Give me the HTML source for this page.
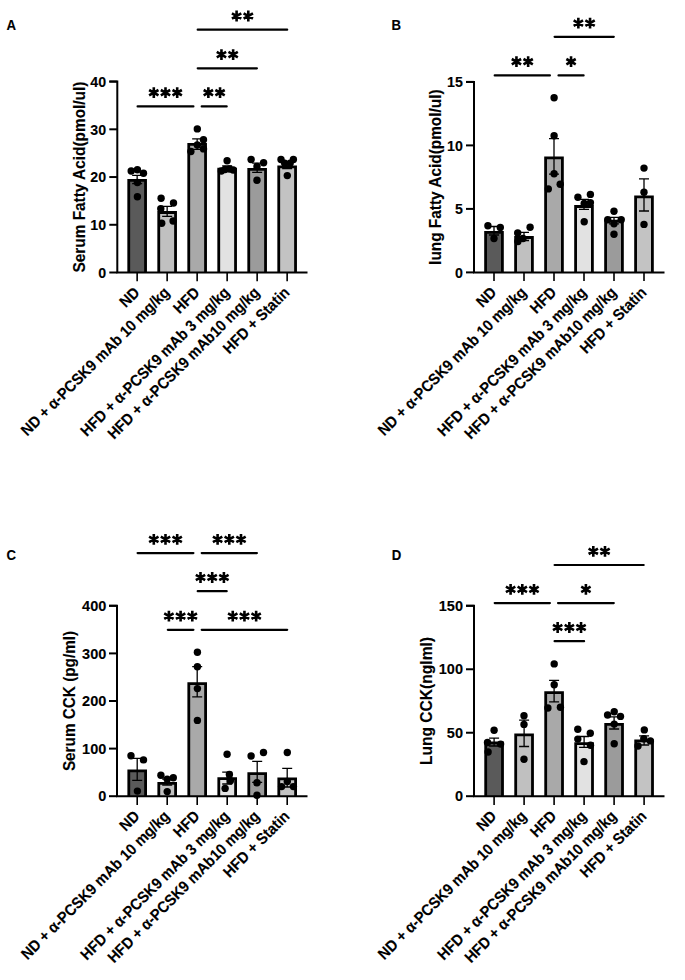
<!DOCTYPE html>
<html><head><meta charset="utf-8"><style>
html,body{margin:0;padding:0;background:#fff;overflow:hidden;width:685px;height:980px;}
svg{display:block;}
text{font-family:"Liberation Sans", sans-serif;font-weight:bold;fill:#000;stroke:#000;stroke-width:0.12px;}
.tl{font-size:14.0px;}
.xl{font-size:14.5px;}
.tt{font-size:15.3px;}
.pl{font-size:13.2px;}
</style></head><body>
<svg width="685" height="980" viewBox="0 0 685 980">
<rect width="685" height="980" fill="#fff"/>
<path d="M128.75 272.5V180.3H145.55V272.5" fill="#5a5a5a" stroke="#000" stroke-width="2.8" stroke-linejoin="miter"/>
<path d="M158.75 272.5V212.5H175.55V272.5" fill="#c0c0c0" stroke="#000" stroke-width="2.8" stroke-linejoin="miter"/>
<path d="M188.75 272.5V144.3H205.55V272.5" fill="#a9a9a9" stroke="#000" stroke-width="2.8" stroke-linejoin="miter"/>
<path d="M218.75 272.5V169.1H235.55V272.5" fill="#e2e2e2" stroke="#000" stroke-width="2.8" stroke-linejoin="miter"/>
<path d="M248.75 272.5V169.4H265.55V272.5" fill="#9b9b9b" stroke="#000" stroke-width="2.8" stroke-linejoin="miter"/>
<path d="M278.75 272.5V166.9H295.55V272.5" fill="#c3c3c3" stroke="#000" stroke-width="2.8" stroke-linejoin="miter"/>
<path d="M137.15 175.3V183.7M132.15 175.3H142.15M132.15 183.7H142.15" stroke="#000" stroke-width="1.3" fill="none"/>
<path d="M167.15 206.4V216.3M162.15 206.4H172.15M162.15 216.3H172.15" stroke="#000" stroke-width="1.3" fill="none"/>
<path d="M197.15 138.8V149.4M192.15 138.8H202.15M192.15 149.4H202.15" stroke="#000" stroke-width="1.3" fill="none"/>
<path d="M227.15 165.8V171.2M222.15 165.8H232.15M222.15 171.2H232.15" stroke="#000" stroke-width="1.3" fill="none"/>
<path d="M257.15 163.1V172.3M252.15 163.1H262.15M252.15 172.3H262.15" stroke="#000" stroke-width="1.3" fill="none"/>
<path d="M287.15 162.5V168.5M282.15 162.5H292.15M282.15 168.5H292.15" stroke="#000" stroke-width="1.3" fill="none"/>
<circle cx="131.2" cy="171" r="3.7"/>
<circle cx="137.4" cy="169.7" r="3.7"/>
<circle cx="143.5" cy="173.3" r="3.7"/>
<circle cx="137.4" cy="182.5" r="3.7"/>
<circle cx="137.4" cy="196.8" r="3.7"/>
<circle cx="161.1" cy="198.2" r="3.7"/>
<circle cx="173.5" cy="203" r="3.7"/>
<circle cx="160.8" cy="208.7" r="3.7"/>
<circle cx="161.7" cy="223.3" r="3.7"/>
<circle cx="173.1" cy="221" r="3.7"/>
<circle cx="197.3" cy="128.9" r="3.7"/>
<circle cx="203.5" cy="139.7" r="3.7"/>
<circle cx="197.3" cy="145" r="3.7"/>
<circle cx="190.9" cy="151.5" r="3.7"/>
<circle cx="203.5" cy="148.9" r="3.7"/>
<circle cx="227.1" cy="160.8" r="3.7"/>
<circle cx="221.3" cy="171" r="3.7"/>
<circle cx="225" cy="169.5" r="3.7"/>
<circle cx="229.5" cy="169" r="3.7"/>
<circle cx="233.2" cy="170" r="3.7"/>
<circle cx="251.1" cy="159.5" r="3.7"/>
<circle cx="263.6" cy="162.7" r="3.7"/>
<circle cx="257" cy="166.4" r="3.7"/>
<circle cx="257" cy="180.2" r="3.7"/>
<circle cx="281" cy="159.5" r="3.7"/>
<circle cx="293.4" cy="159.5" r="3.7"/>
<circle cx="284.6" cy="163.1" r="3.7"/>
<circle cx="290.2" cy="163.1" r="3.7"/>
<circle cx="287.3" cy="175.6" r="3.7"/>
<path d="M109.3 81.6H117.3V272.5H307.5" stroke="#000" stroke-width="2.0" fill="none" stroke-linejoin="miter"/>
<path d="M109.3 272.5H117.3" stroke="#000" stroke-width="2.0"/>
<text transform="translate(106.1 277.7) scale(1 1.0)" text-anchor="end" style="font-size:14.2px">0</text>
<path d="M109.3 224.78H117.3" stroke="#000" stroke-width="2.0"/>
<text transform="translate(106.1 229.97) scale(1 1.0)" text-anchor="end" style="font-size:14.2px">10</text>
<path d="M109.3 177.05H117.3" stroke="#000" stroke-width="2.0"/>
<text transform="translate(106.1 182.25) scale(1 1.0)" text-anchor="end" style="font-size:14.2px">20</text>
<path d="M109.3 129.32H117.3" stroke="#000" stroke-width="2.0"/>
<text transform="translate(106.1 134.52) scale(1 1.0)" text-anchor="end" style="font-size:14.2px">30</text>
<path d="M109.3 81.6H117.3" stroke="#000" stroke-width="2.0"/>
<text transform="translate(106.1 86.8) scale(1 1.0)" text-anchor="end" style="font-size:14.2px">40</text>
<path d="M137.15 272.5V281.2" stroke="#000" stroke-width="1.6"/>
<text transform="translate(140.55 293.5) rotate(-45) scale(1 1.08)" text-anchor="end" style="font-size:14.5px">ND</text>
<path d="M167.15 272.5V281.2" stroke="#000" stroke-width="1.6"/>
<text transform="translate(170.55 293.5) rotate(-45) scale(1 1.08)" text-anchor="end" style="font-size:14.5px">ND + α-PCSK9 mAb 10 mg/kg</text>
<path d="M197.15 272.5V281.2" stroke="#000" stroke-width="1.6"/>
<text transform="translate(200.55 293.5) rotate(-45) scale(1 1.08)" text-anchor="end" style="font-size:14.5px">HFD</text>
<path d="M227.15 272.5V281.2" stroke="#000" stroke-width="1.6"/>
<text transform="translate(230.55 293.5) rotate(-45) scale(1 1.08)" text-anchor="end" style="font-size:14.5px">HFD + α-PCSK9 mAb 3 mg/kg</text>
<path d="M257.15 272.5V281.2" stroke="#000" stroke-width="1.6"/>
<text transform="translate(260.55 293.5) rotate(-45) scale(1 1.08)" text-anchor="end" style="font-size:14.5px">HFD + α-PCSK9 mAb10 mg/kg</text>
<path d="M287.15 272.5V281.2" stroke="#000" stroke-width="1.6"/>
<text transform="translate(290.55 293.5) rotate(-45) scale(1 1.08)" text-anchor="end" style="font-size:14.5px">HFD + Statin</text>
<text transform="translate(85 177.05) rotate(-90) scale(1 1.09)" text-anchor="middle" style="font-size:15.4px">Serum Fatty Acid(pmol/ul)</text>
<text transform="translate(6.4 29.8) scale(1 1.14)" style="font-size:13.2px">A</text>
<path d="M197.7 29.7H287.2" stroke="#000" stroke-width="2.2" stroke-linecap="round"/>
<path d="M236.6 10.6L236.6 21.4M231.92 13.3L241.28 18.7M241.28 13.3L231.92 18.7M248.3 10.6L248.3 21.4M243.62 13.3L252.98 18.7M252.98 13.3L243.62 18.7" stroke="#000" stroke-width="2.6" fill="none"/>
<path d="M197.7 68.3H256.9" stroke="#000" stroke-width="2.2" stroke-linecap="round"/>
<path d="M221.45 49.2L221.45 60M216.77 51.9L226.13 57.3M226.13 51.9L216.77 57.3M233.15 49.2L233.15 60M228.47 51.9L237.83 57.3M237.83 51.9L228.47 57.3" stroke="#000" stroke-width="2.6" fill="none"/>
<path d="M137.6 106.4H193.4" stroke="#000" stroke-width="2.2" stroke-linecap="round"/>
<path d="M153.8 87.3L153.8 98.1M149.12 90L158.48 95.4M158.48 90L149.12 95.4M165.5 87.3L165.5 98.1M160.82 90L170.18 95.4M170.18 90L160.82 95.4M177.2 87.3L177.2 98.1M172.52 90L181.88 95.4M181.88 90L172.52 95.4" stroke="#000" stroke-width="2.6" fill="none"/>
<path d="M201.7 106.4H226.7" stroke="#000" stroke-width="2.2" stroke-linecap="round"/>
<path d="M208.35 87.3L208.35 98.1M203.67 90L213.03 95.4M213.03 90L203.67 95.4M220.05 87.3L220.05 98.1M215.37 90L224.73 95.4M224.73 90L215.37 95.4" stroke="#000" stroke-width="2.6" fill="none"/>
<path d="M485.6 272.4V232.4H502.4V272.4" fill="#5a5a5a" stroke="#000" stroke-width="2.8" stroke-linejoin="miter"/>
<path d="M515.6 272.4V237.5H532.4V272.4" fill="#c0c0c0" stroke="#000" stroke-width="2.8" stroke-linejoin="miter"/>
<path d="M545.6 272.4V157.8H562.4V272.4" fill="#a9a9a9" stroke="#000" stroke-width="2.8" stroke-linejoin="miter"/>
<path d="M575.6 272.4V206.5H592.4V272.4" fill="#e2e2e2" stroke="#000" stroke-width="2.8" stroke-linejoin="miter"/>
<path d="M605.6 272.4V221.2H622.4V272.4" fill="#9b9b9b" stroke="#000" stroke-width="2.8" stroke-linejoin="miter"/>
<path d="M635.6 272.4V196.9H652.4V272.4" fill="#c3c3c3" stroke="#000" stroke-width="2.8" stroke-linejoin="miter"/>
<path d="M494 226.5V235M489 226.5H499M489 235H499" stroke="#000" stroke-width="1.3" fill="none"/>
<path d="M524 232.3V240.5M519 232.3H529M519 240.5H529" stroke="#000" stroke-width="1.3" fill="none"/>
<path d="M554 138.7V174.1M549 138.7H559M549 174.1H559" stroke="#000" stroke-width="1.3" fill="none"/>
<path d="M584 199.4V209.3M579 199.4H589M579 209.3H589" stroke="#000" stroke-width="1.3" fill="none"/>
<path d="M614 217.3V223.8M609 217.3H619M609 223.8H619" stroke="#000" stroke-width="1.3" fill="none"/>
<path d="M644 178.8V211M639 178.8H649M639 211H649" stroke="#000" stroke-width="1.3" fill="none"/>
<circle cx="487.9" cy="225.8" r="3.7"/>
<circle cx="500.3" cy="227.5" r="3.7"/>
<circle cx="494" cy="238.5" r="3.7"/>
<circle cx="530.1" cy="227.3" r="3.7"/>
<circle cx="517.7" cy="232.9" r="3.7"/>
<circle cx="517.9" cy="241.5" r="3.7"/>
<circle cx="523" cy="238.5" r="3.7"/>
<circle cx="554.1" cy="97.7" r="3.7"/>
<circle cx="554.1" cy="135.7" r="3.7"/>
<circle cx="554.1" cy="173.7" r="3.7"/>
<circle cx="548.3" cy="188.9" r="3.7"/>
<circle cx="560.2" cy="184.2" r="3.7"/>
<circle cx="577.9" cy="197.2" r="3.7"/>
<circle cx="590.4" cy="194.4" r="3.7"/>
<circle cx="584.2" cy="203.4" r="3.7"/>
<circle cx="590.4" cy="202.7" r="3.7"/>
<circle cx="584.2" cy="221.8" r="3.7"/>
<circle cx="614" cy="211.2" r="3.7"/>
<circle cx="607.7" cy="219.8" r="3.7"/>
<circle cx="621.2" cy="219.8" r="3.7"/>
<circle cx="614" cy="223.7" r="3.7"/>
<circle cx="614" cy="234.2" r="3.7"/>
<circle cx="644" cy="168.1" r="3.7"/>
<circle cx="644" cy="192.2" r="3.7"/>
<circle cx="644" cy="224.4" r="3.7"/>
<path d="M466 81.9H474V272.4H664.5" stroke="#000" stroke-width="2.0" fill="none" stroke-linejoin="miter"/>
<path d="M466 272.4H474" stroke="#000" stroke-width="2.0"/>
<text transform="translate(462.8 277.6) scale(1 1.0)" text-anchor="end" style="font-size:14.2px">0</text>
<path d="M466 208.9H474" stroke="#000" stroke-width="2.0"/>
<text transform="translate(462.8 214.1) scale(1 1.0)" text-anchor="end" style="font-size:14.2px">5</text>
<path d="M466 145.4H474" stroke="#000" stroke-width="2.0"/>
<text transform="translate(462.8 150.6) scale(1 1.0)" text-anchor="end" style="font-size:14.2px">10</text>
<path d="M466 81.9H474" stroke="#000" stroke-width="2.0"/>
<text transform="translate(462.8 87.1) scale(1 1.0)" text-anchor="end" style="font-size:14.2px">15</text>
<path d="M494 272.4V281.1" stroke="#000" stroke-width="1.6"/>
<text transform="translate(497.4 293.4) rotate(-45) scale(1 1.08)" text-anchor="end" style="font-size:14.5px">ND</text>
<path d="M524 272.4V281.1" stroke="#000" stroke-width="1.6"/>
<text transform="translate(527.4 293.4) rotate(-45) scale(1 1.08)" text-anchor="end" style="font-size:14.5px">ND + α-PCSK9 mAb 10 mg/kg</text>
<path d="M554 272.4V281.1" stroke="#000" stroke-width="1.6"/>
<text transform="translate(557.4 293.4) rotate(-45) scale(1 1.08)" text-anchor="end" style="font-size:14.5px">HFD</text>
<path d="M584 272.4V281.1" stroke="#000" stroke-width="1.6"/>
<text transform="translate(587.4 293.4) rotate(-45) scale(1 1.08)" text-anchor="end" style="font-size:14.5px">HFD + α-PCSK9 mAb 3 mg/kg</text>
<path d="M614 272.4V281.1" stroke="#000" stroke-width="1.6"/>
<text transform="translate(617.4 293.4) rotate(-45) scale(1 1.08)" text-anchor="end" style="font-size:14.5px">HFD + α-PCSK9 mAb10 mg/kg</text>
<path d="M644 272.4V281.1" stroke="#000" stroke-width="1.6"/>
<text transform="translate(647.4 293.4) rotate(-45) scale(1 1.08)" text-anchor="end" style="font-size:14.5px">HFD + Statin</text>
<text transform="translate(441 177.15) rotate(-90) scale(1 1.09)" text-anchor="middle" style="font-size:15.4px">lung Fatty Acid(pmol/ul)</text>
<text transform="translate(391.6 29.8) scale(1 1.14)" style="font-size:13.2px">B</text>
<path d="M554.6 36.8H613.8" stroke="#000" stroke-width="2.2" stroke-linecap="round"/>
<path d="M578.35 17.7L578.35 28.5M573.67 20.4L583.03 25.8M583.03 20.4L573.67 25.8M590.05 17.7L590.05 28.5M585.37 20.4L594.73 25.8M594.73 20.4L585.37 25.8" stroke="#000" stroke-width="2.6" fill="none"/>
<path d="M494.7 75.4H549.9" stroke="#000" stroke-width="2.2" stroke-linecap="round"/>
<path d="M516.45 56.3L516.45 67.1M511.77 59L521.13 64.4M521.13 59L511.77 64.4M528.15 56.3L528.15 67.1M523.47 59L532.83 64.4M532.83 59L523.47 64.4" stroke="#000" stroke-width="2.6" fill="none"/>
<path d="M558.5 75.4H583.6" stroke="#000" stroke-width="2.2" stroke-linecap="round"/>
<path d="M571.05 56.3L571.05 67.1M566.37 59L575.73 64.4M575.73 59L566.37 64.4" stroke="#000" stroke-width="2.6" fill="none"/>
<path d="M128.8 796.2V770.8H145.6V796.2" fill="#5a5a5a" stroke="#000" stroke-width="2.8" stroke-linejoin="miter"/>
<path d="M158.8 796.2V783.3H175.6V796.2" fill="#c0c0c0" stroke="#000" stroke-width="2.8" stroke-linejoin="miter"/>
<path d="M188.8 796.2V683.7H205.6V796.2" fill="#a9a9a9" stroke="#000" stroke-width="2.8" stroke-linejoin="miter"/>
<path d="M218.8 796.2V778.6H235.6V796.2" fill="#e2e2e2" stroke="#000" stroke-width="2.8" stroke-linejoin="miter"/>
<path d="M248.8 796.2V773.6H265.6V796.2" fill="#9b9b9b" stroke="#000" stroke-width="2.8" stroke-linejoin="miter"/>
<path d="M278.8 796.2V778.9H295.6V796.2" fill="#c3c3c3" stroke="#000" stroke-width="2.8" stroke-linejoin="miter"/>
<path d="M137.2 758.4V780.4M132.2 758.4H142.2M132.2 780.4H142.2" stroke="#000" stroke-width="1.3" fill="none"/>
<path d="M167.2 779V785M162.2 779H172.2M162.2 785H172.2" stroke="#000" stroke-width="1.3" fill="none"/>
<path d="M197.2 666.7V696.9M192.2 666.7H202.2M192.2 696.9H202.2" stroke="#000" stroke-width="1.3" fill="none"/>
<path d="M227.2 772.2V784M222.2 772.2H232.2M222.2 784H232.2" stroke="#000" stroke-width="1.3" fill="none"/>
<path d="M257.2 761.3V782.3M252.2 761.3H262.2M252.2 782.3H262.2" stroke="#000" stroke-width="1.3" fill="none"/>
<path d="M287.2 768.3V787M282.2 768.3H292.2M282.2 787H292.2" stroke="#000" stroke-width="1.3" fill="none"/>
<circle cx="131" cy="755.8" r="3.7"/>
<circle cx="143.5" cy="759.9" r="3.7"/>
<circle cx="137.4" cy="791.1" r="3.7"/>
<circle cx="160.9" cy="775.3" r="3.7"/>
<circle cx="167.2" cy="779.3" r="3.7"/>
<circle cx="173.3" cy="777.8" r="3.7"/>
<circle cx="167.2" cy="791.6" r="3.7"/>
<circle cx="197.4" cy="652.2" r="3.7"/>
<circle cx="197.4" cy="666.7" r="3.7"/>
<circle cx="197.4" cy="688.6" r="3.7"/>
<circle cx="197.4" cy="720.4" r="3.7"/>
<circle cx="227.1" cy="754.2" r="3.7"/>
<circle cx="229.4" cy="774.4" r="3.7"/>
<circle cx="230.4" cy="780.7" r="3.7"/>
<circle cx="225.1" cy="788.4" r="3.7"/>
<circle cx="251.1" cy="756" r="3.7"/>
<circle cx="263.5" cy="752.5" r="3.7"/>
<circle cx="257" cy="782.7" r="3.7"/>
<circle cx="257" cy="795.2" r="3.7"/>
<circle cx="287.3" cy="752.5" r="3.7"/>
<circle cx="287.3" cy="781.4" r="3.7"/>
<circle cx="281.6" cy="786.6" r="3.7"/>
<circle cx="293.4" cy="786.6" r="3.7"/>
<path d="M109 605.8H117V796.2H307.5" stroke="#000" stroke-width="2.0" fill="none" stroke-linejoin="miter"/>
<path d="M109 796.2H117" stroke="#000" stroke-width="2.0"/>
<text transform="translate(106.3 801.4) scale(1 1.0)" text-anchor="end" style="font-size:14.5px">0</text>
<path d="M109 748.6H117" stroke="#000" stroke-width="2.0"/>
<text transform="translate(106.3 753.8) scale(1 1.0)" text-anchor="end" style="font-size:14.5px">100</text>
<path d="M109 701H117" stroke="#000" stroke-width="2.0"/>
<text transform="translate(106.3 706.2) scale(1 1.0)" text-anchor="end" style="font-size:14.5px">200</text>
<path d="M109 653.4H117" stroke="#000" stroke-width="2.0"/>
<text transform="translate(106.3 658.6) scale(1 1.0)" text-anchor="end" style="font-size:14.5px">300</text>
<path d="M109 605.8H117" stroke="#000" stroke-width="2.0"/>
<text transform="translate(106.3 611) scale(1 1.0)" text-anchor="end" style="font-size:14.5px">400</text>
<path d="M137.2 796.2V804.9" stroke="#000" stroke-width="1.6"/>
<text transform="translate(140.6 817.2) rotate(-45) scale(1 1.08)" text-anchor="end" style="font-size:14.5px">ND</text>
<path d="M167.2 796.2V804.9" stroke="#000" stroke-width="1.6"/>
<text transform="translate(170.6 817.2) rotate(-45) scale(1 1.08)" text-anchor="end" style="font-size:14.5px">ND + α-PCSK9 mAb 10 mg/kg</text>
<path d="M197.2 796.2V804.9" stroke="#000" stroke-width="1.6"/>
<text transform="translate(200.6 817.2) rotate(-45) scale(1 1.08)" text-anchor="end" style="font-size:14.5px">HFD</text>
<path d="M227.2 796.2V804.9" stroke="#000" stroke-width="1.6"/>
<text transform="translate(230.6 817.2) rotate(-45) scale(1 1.08)" text-anchor="end" style="font-size:14.5px">HFD + α-PCSK9 mAb 3 mg/kg</text>
<path d="M257.2 796.2V804.9" stroke="#000" stroke-width="1.6"/>
<text transform="translate(260.6 817.2) rotate(-45) scale(1 1.08)" text-anchor="end" style="font-size:14.5px">HFD + α-PCSK9 mAb10 mg/kg</text>
<path d="M287.2 796.2V804.9" stroke="#000" stroke-width="1.6"/>
<text transform="translate(290.6 817.2) rotate(-45) scale(1 1.08)" text-anchor="end" style="font-size:14.5px">HFD + Statin</text>
<text transform="translate(74.7 701) rotate(-90) scale(1 1.09)" text-anchor="middle" style="font-size:15.3px">Serum CCK (pg/ml)</text>
<text transform="translate(6.5 560.2) scale(1 1.14)" style="font-size:13.2px">C</text>
<path d="M137.6 553.1H193.4" stroke="#000" stroke-width="2.2" stroke-linecap="round"/>
<path d="M153.8 534L153.8 544.8M149.12 536.7L158.48 542.1M158.48 536.7L149.12 542.1M165.5 534L165.5 544.8M160.82 536.7L170.18 542.1M170.18 536.7L160.82 542.1M177.2 534L177.2 544.8M172.52 536.7L181.88 542.1M181.88 536.7L172.52 542.1" stroke="#000" stroke-width="2.6" fill="none"/>
<path d="M201.7 553.1H256.9" stroke="#000" stroke-width="2.2" stroke-linecap="round"/>
<path d="M217.6 534L217.6 544.8M212.92 536.7L222.28 542.1M222.28 536.7L212.92 542.1M229.3 534L229.3 544.8M224.62 536.7L233.98 542.1M233.98 536.7L224.62 542.1M241 534L241 544.8M236.32 536.7L245.68 542.1M245.68 536.7L236.32 542.1" stroke="#000" stroke-width="2.6" fill="none"/>
<path d="M197.7 591.2H226.7" stroke="#000" stroke-width="2.2" stroke-linecap="round"/>
<path d="M200.5 572.1L200.5 582.9M195.82 574.8L205.18 580.2M205.18 574.8L195.82 580.2M212.2 572.1L212.2 582.9M207.52 574.8L216.88 580.2M216.88 574.8L207.52 580.2M223.9 572.1L223.9 582.9M219.22 574.8L228.58 580.2M228.58 574.8L219.22 580.2" stroke="#000" stroke-width="2.6" fill="none"/>
<path d="M167.8 629.8H193.4" stroke="#000" stroke-width="2.2" stroke-linecap="round"/>
<path d="M168.9 610.7L168.9 621.5M164.22 613.4L173.58 618.8M173.58 613.4L164.22 618.8M180.6 610.7L180.6 621.5M175.92 613.4L185.28 618.8M185.28 613.4L175.92 618.8M192.3 610.7L192.3 621.5M187.62 613.4L196.98 618.8M196.98 613.4L187.62 618.8" stroke="#000" stroke-width="2.6" fill="none"/>
<path d="M201.7 629.8H287.2" stroke="#000" stroke-width="2.2" stroke-linecap="round"/>
<path d="M232.75 610.7L232.75 621.5M228.07 613.4L237.43 618.8M237.43 613.4L228.07 618.8M244.45 610.7L244.45 621.5M239.77 613.4L249.13 618.8M249.13 613.4L239.77 618.8M256.15 610.7L256.15 621.5M251.47 613.4L260.83 618.8M260.83 613.4L251.47 618.8" stroke="#000" stroke-width="2.6" fill="none"/>
<path d="M485.7 796.2V742.8H502.5V796.2" fill="#5a5a5a" stroke="#000" stroke-width="2.8" stroke-linejoin="miter"/>
<path d="M515.7 796.2V734.8H532.5V796.2" fill="#c0c0c0" stroke="#000" stroke-width="2.8" stroke-linejoin="miter"/>
<path d="M545.7 796.2V692.6H562.5V796.2" fill="#a9a9a9" stroke="#000" stroke-width="2.8" stroke-linejoin="miter"/>
<path d="M575.7 796.2V743.7H592.5V796.2" fill="#e2e2e2" stroke="#000" stroke-width="2.8" stroke-linejoin="miter"/>
<path d="M605.7 796.2V724.3H622.5V796.2" fill="#9b9b9b" stroke="#000" stroke-width="2.8" stroke-linejoin="miter"/>
<path d="M635.7 796.2V740.8H652.5V796.2" fill="#c3c3c3" stroke="#000" stroke-width="2.8" stroke-linejoin="miter"/>
<path d="M494.1 738.2V746M489.1 738.2H499.1M489.1 746H499.1" stroke="#000" stroke-width="1.3" fill="none"/>
<path d="M524.1 720.2V746.5M519.1 720.2H529.1M519.1 746.5H529.1" stroke="#000" stroke-width="1.3" fill="none"/>
<path d="M554.1 680.4V701.8M549.1 680.4H559.1M549.1 701.8H559.1" stroke="#000" stroke-width="1.3" fill="none"/>
<path d="M584.1 736.5V747.4M579.1 736.5H589.1M579.1 747.4H589.1" stroke="#000" stroke-width="1.3" fill="none"/>
<path d="M614.1 716.8V729M609.1 716.8H619.1M609.1 729H619.1" stroke="#000" stroke-width="1.3" fill="none"/>
<path d="M644.1 735.8V745M639.1 735.8H649.1M639.1 745H649.1" stroke="#000" stroke-width="1.3" fill="none"/>
<circle cx="494.1" cy="730.3" r="3.7"/>
<circle cx="487.5" cy="742.5" r="3.7"/>
<circle cx="500.6" cy="744.1" r="3.7"/>
<circle cx="488.1" cy="752" r="3.7"/>
<circle cx="524" cy="715.8" r="3.7"/>
<circle cx="524" cy="724.4" r="3.7"/>
<circle cx="524" cy="759.3" r="3.7"/>
<circle cx="554.2" cy="663.9" r="3.7"/>
<circle cx="554.2" cy="684.7" r="3.7"/>
<circle cx="547.9" cy="708" r="3.7"/>
<circle cx="560.4" cy="707.3" r="3.7"/>
<circle cx="577.8" cy="729.2" r="3.7"/>
<circle cx="590.3" cy="733.3" r="3.7"/>
<circle cx="577.8" cy="739.1" r="3.7"/>
<circle cx="590.5" cy="745.3" r="3.7"/>
<circle cx="584" cy="761.6" r="3.7"/>
<circle cx="607.6" cy="715" r="3.7"/>
<circle cx="614.2" cy="711.7" r="3.7"/>
<circle cx="620.5" cy="716.4" r="3.7"/>
<circle cx="614.2" cy="724.1" r="3.7"/>
<circle cx="614.2" cy="743.8" r="3.7"/>
<circle cx="644.3" cy="729.9" r="3.7"/>
<circle cx="643.8" cy="738.7" r="3.7"/>
<circle cx="650.4" cy="740.9" r="3.7"/>
<circle cx="638" cy="746" r="3.7"/>
<path d="M466 605.8H474V796.2H664.5" stroke="#000" stroke-width="2.0" fill="none" stroke-linejoin="miter"/>
<path d="M466 796.2H474" stroke="#000" stroke-width="2.0"/>
<text transform="translate(463 801.4) scale(1 1.0)" text-anchor="end" style="font-size:14.5px">0</text>
<path d="M466 732.73H474" stroke="#000" stroke-width="2.0"/>
<text transform="translate(463 737.93) scale(1 1.0)" text-anchor="end" style="font-size:14.5px">50</text>
<path d="M466 669.27H474" stroke="#000" stroke-width="2.0"/>
<text transform="translate(463 674.47) scale(1 1.0)" text-anchor="end" style="font-size:14.5px">100</text>
<path d="M466 605.8H474" stroke="#000" stroke-width="2.0"/>
<text transform="translate(463 611) scale(1 1.0)" text-anchor="end" style="font-size:14.5px">150</text>
<path d="M494.1 796.2V804.9" stroke="#000" stroke-width="1.6"/>
<text transform="translate(497.5 817.2) rotate(-45) scale(1 1.08)" text-anchor="end" style="font-size:14.5px">ND</text>
<path d="M524.1 796.2V804.9" stroke="#000" stroke-width="1.6"/>
<text transform="translate(527.5 817.2) rotate(-45) scale(1 1.08)" text-anchor="end" style="font-size:14.5px">ND + α-PCSK9 mAb 10 mg/kg</text>
<path d="M554.1 796.2V804.9" stroke="#000" stroke-width="1.6"/>
<text transform="translate(557.5 817.2) rotate(-45) scale(1 1.08)" text-anchor="end" style="font-size:14.5px">HFD</text>
<path d="M584.1 796.2V804.9" stroke="#000" stroke-width="1.6"/>
<text transform="translate(587.5 817.2) rotate(-45) scale(1 1.08)" text-anchor="end" style="font-size:14.5px">HFD + α-PCSK9 mAb 3 mg/kg</text>
<path d="M614.1 796.2V804.9" stroke="#000" stroke-width="1.6"/>
<text transform="translate(617.5 817.2) rotate(-45) scale(1 1.08)" text-anchor="end" style="font-size:14.5px">HFD + α-PCSK9 mAb10 mg/kg</text>
<path d="M644.1 796.2V804.9" stroke="#000" stroke-width="1.6"/>
<text transform="translate(647.5 817.2) rotate(-45) scale(1 1.08)" text-anchor="end" style="font-size:14.5px">HFD + Statin</text>
<text transform="translate(432.2 701) rotate(-90) scale(1 1.09)" text-anchor="middle" style="font-size:15.6px">Lung CCK(nglml)</text>
<text transform="translate(391.8 560.3) scale(1 1.14)" style="font-size:13.2px">D</text>
<path d="M554.6 565H643.7" stroke="#000" stroke-width="2.2" stroke-linecap="round"/>
<path d="M593.3 545.9L593.3 556.7M588.62 548.6L597.98 554M597.98 548.6L588.62 554M605 545.9L605 556.7M600.32 548.6L609.68 554M609.68 548.6L600.32 554" stroke="#000" stroke-width="2.6" fill="none"/>
<path d="M494.7 603.1H549.9" stroke="#000" stroke-width="2.2" stroke-linecap="round"/>
<path d="M510.6 584L510.6 594.8M505.92 586.7L515.28 592.1M515.28 586.7L505.92 592.1M522.3 584L522.3 594.8M517.62 586.7L526.98 592.1M526.98 586.7L517.62 592.1M534 584L534 594.8M529.32 586.7L538.68 592.1M538.68 586.7L529.32 592.1" stroke="#000" stroke-width="2.6" fill="none"/>
<path d="M558 603.1H613.8" stroke="#000" stroke-width="2.2" stroke-linecap="round"/>
<path d="M585.9 584L585.9 594.8M581.22 586.7L590.58 592.1M590.58 586.7L581.22 592.1" stroke="#000" stroke-width="2.6" fill="none"/>
<path d="M554.6 641.2H584.1" stroke="#000" stroke-width="2.2" stroke-linecap="round"/>
<path d="M557.65 622.1L557.65 632.9M552.97 624.8L562.33 630.2M562.33 624.8L552.97 630.2M569.35 622.1L569.35 632.9M564.67 624.8L574.03 630.2M574.03 624.8L564.67 630.2M581.05 622.1L581.05 632.9M576.37 624.8L585.73 630.2M585.73 624.8L576.37 630.2" stroke="#000" stroke-width="2.6" fill="none"/>
</svg>
</body></html>
